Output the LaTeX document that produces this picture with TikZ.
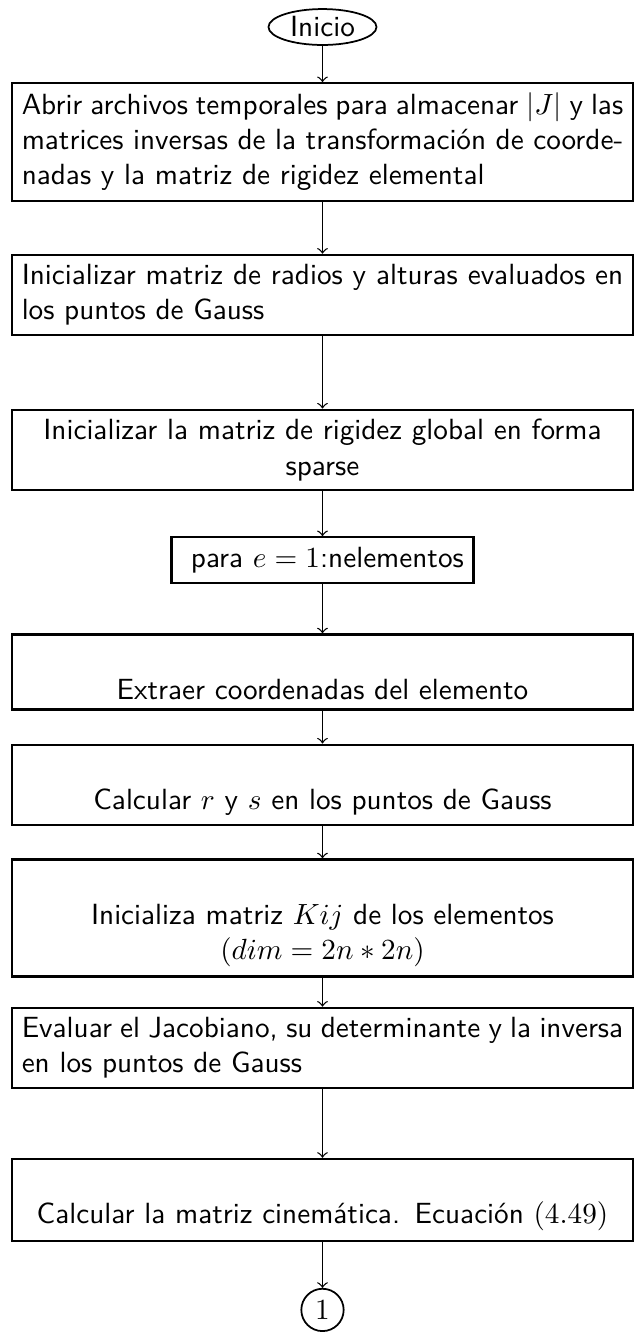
\documentclass[tikz,border=0pt]{standalone}
\usetikzlibrary{shapes.geometric}

\begin{document}
\begin{tikzpicture}[
    startstop/.style={ellipse, draw=black, semithick, font=\sffamily, inner sep=0pt, minimum width=37pt, minimum height=12.3pt},
    process/.style={rectangle, draw=black, line width=0.75pt, font=\sffamily, text width=206pt},
    loopbox/.style={rectangle, draw=black, line width=0.75pt, font=\sffamily},
    connector/.style={circle, draw=black, semithick, inner sep=1pt, minimum size=14.5pt},
    arrow/.style={->, line width=0.45pt}
]
\useasboundingbox (0,0) rectangle (7.632,-16.094);

% Start
\node[startstop] (inicio) at (3.882,-0.325) {Inicio};

% Preparation steps
\node[process, align=justify] (archivos) at (3.882,-1.709)
    {Abrir archivos temporales para almacenar $|J|$ y las\linebreak matrices inversas de la transformación de coorde-\linebreak nadas y la matriz de rigidez elemental};
\node[process, align=justify] (radios) at (3.882,-3.551)
    {Inicializar matriz de radios y alturas evaluados en\linebreak los puntos de Gauss};
\node[process, align=center] (global) at (3.882,-5.417)
    {Inicializar la matriz de rigidez global en forma\\ sparse};

% Loop over elements
\node[loopbox] (bucle) at (3.882,-6.741) {\ para $e=1$:nelementos};
\node[process, align=center] (coord) at (3.882,-8.089)
    {\rule{0pt}{6.94pt}\\ Extraer coordenadas del elemento};
\node[process, align=center] (rs) at (3.882,-9.449)
    {\rule{0pt}{6.94pt}\\ Calcular $r$ y $s$ en los puntos de Gauss};
\node[process, align=center] (kij) at (3.882,-11.050)
    {\rule{0pt}{6.94pt}\\ Inicializa matriz $Kij$ de los elementos\\ \mbox{$(dim=2n*2n)$}};
\node[process, align=justify] (jacobiano) at (3.882,-12.615)
    {Evaluar el Jacobiano, su determinante y la inversa\linebreak en los puntos de Gauss};
\node[process, align=center] (cinematica) at (3.882,-14.444)
    {\rule{0pt}{6.94pt}\\ \mbox{Calcular la matriz cinemática. Ecuación $(4.49)$}};

% Off-page connector
\node[connector] (uno) at (3.882,-15.768) {$1$};

\draw[arrow] (inicio) -- (archivos);
\draw[arrow] (archivos) -- (radios);
\draw[arrow] (radios) -- (global);
\draw[arrow] (global) -- (bucle);
\draw[arrow] (bucle) -- (coord);
\draw[arrow] (coord) -- (rs);
\draw[arrow] (rs) -- (kij);
\draw[arrow] (kij) -- (jacobiano);
\draw[arrow] (jacobiano) -- (cinematica);
\draw[arrow] (cinematica) -- (uno);

\end{tikzpicture}
\end{document}
